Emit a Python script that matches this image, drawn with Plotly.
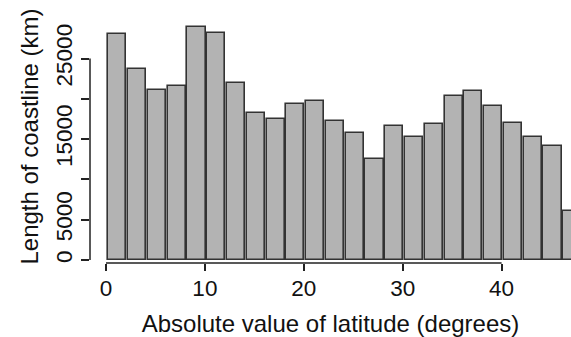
import plotly.graph_objects as go

# Bar centres (degrees of absolute latitude) and coastline length (km)
lat_centres = [1.15, 3.15, 5.15, 7.15, 9.15, 11.15, 13.15, 15.15, 17.15, 19.15, 21.15, 23.15,
               25.15, 27.15, 29.15, 31.15, 33.15, 35.15, 37.15, 39.15, 41.15, 43.15, 45.15, 47.15]
coast_km = [28050, 23650, 21150, 21650, 28950, 28200, 21900, 18250, 17550, 19400, 19700, 17300,
            15800, 12500, 16600, 15300, 16850, 20400, 20950, 19150, 17050, 15200, 14200, 6100]
x_ticks = [0, 10, 20, 30, 40]
y_ticks = [0, 5000, 10000, 15000, 20000, 25000]
y_ticktext = ["0", "5000", "", "15000", "", "25000"]

FONT = "Liberation Sans, Arial, sans-serif"
AX = "#222222"

fig = go.Figure()
fig.add_trace(go.Bar(
    x=lat_centres, y=coast_km, width=1.84,
    marker=dict(color="#b3b3b3", line=dict(color="#333333", width=1.6)),
    showlegend=False,
))

fig.update_layout(
    width=571, height=337,
    margin=dict(l=90, r=0, t=10, b=74),
    paper_bgcolor="white", plot_bgcolor="white",
    font=dict(family=FONT, size=22, color="#111111"),
    bargap=0,
)
fig.update_xaxes(
    range=[-1.618, 47.02], tickmode="array", tickvals=x_ticks,
    ticks="outside", ticklen=7, tickwidth=1.5, tickcolor=AX,
    showgrid=False, zeroline=False, showline=False, automargin=False,
    ticklabelstandoff=-2,
    title=dict(text="Absolute value of latitude (degrees)", standoff=17, font=dict(size=24)),
    tickfont=dict(size=22.5),
)
fig.update_yaxes(
    range=[-372, 31017], tickmode="array", tickvals=y_ticks, ticktext=y_ticktext,
    tickangle=-90,
    ticks="outside", ticklen=8, tickwidth=1.5, tickcolor=AX,
    showgrid=False, zeroline=False, showline=False, automargin=False,
    title=dict(text="Length of coastline (km)", standoff=6, font=dict(size=24)),
    tickfont=dict(size=22.5),
)
# R-style axis lines spanning only the tick range
fig.add_shape(type="line", xref="x", yref="paper", x0=x_ticks[0], x1=x_ticks[-1], y0=0, y1=0,
              line=dict(color=AX, width=1.5))
fig.add_shape(type="line", xref="paper", yref="y", x0=0, x1=0, y0=y_ticks[0], y1=y_ticks[-1],
              line=dict(color=AX, width=1.5))

# remove the browser's default 8px page margin so the figure fills the window exactly
fig.write_html("out.html", config={"displayModeBar": False},
               post_script="document.body.style.margin='0';document.body.style.overflow='hidden';")
